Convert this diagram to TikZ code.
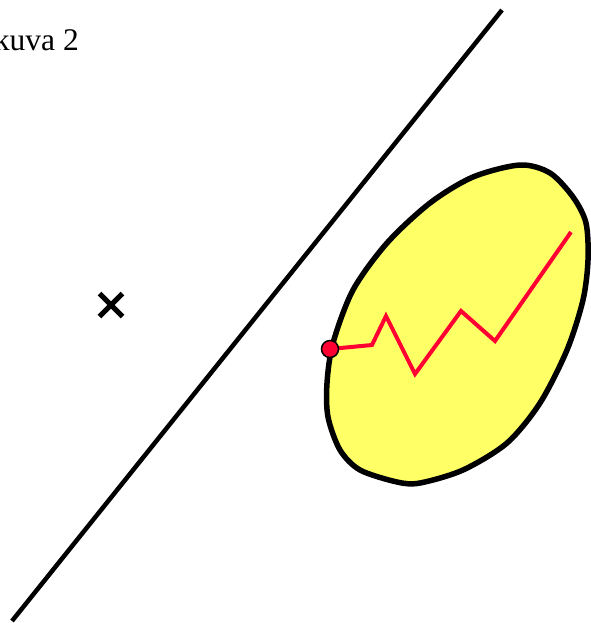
\documentclass[tikz,border=0pt]{standalone}
\usepackage{fontspec}
\setmainfont{Liberation Serif}
\definecolor{blobyellow}{RGB}{255,255,102}
\definecolor{walkred}{RGB}{255,0,51}

\begin{document}
\begin{tikzpicture}[x=1pt,y=-1pt]
        \useasboundingbox (0,0) rectangle (590,623);
        \draw[line width=4.5pt] (502,10) -- (12,621);
        \draw[line width=5.5pt, fill=blobyellow] plot[smooth cycle] coordinates {(520,165) (550,173) (573,197) (586,223) (588,260) (583,300) (567,350) (540,403) (507,443) (463,470) (420,483) (397,482) (360,470) (340,450) (328,417) (327,383) (333,343) (353,290) (387,243) (430,203) (473,177)};
        \draw[line width=5pt] (99.5,293.5) -- (122.5,316.5) (99.5,316.5) -- (122.5,293.5);
        \coordinate (start) at (330,349);
        \draw[walkred, line width=4pt] (start) -- (372,345) -- (386,316) -- (415,374) -- (461,311) -- (495,341) -- (571,232);
        \filldraw[fill=walkred, draw=black, line width=1.5pt] (start) circle (8.5pt);
        \node[anchor=base east, inner sep=0pt, font=\fontsize{31.5}{38}\selectfont] (title) at (79,51) {kuva 2};
    \end{tikzpicture}
\end{document}
